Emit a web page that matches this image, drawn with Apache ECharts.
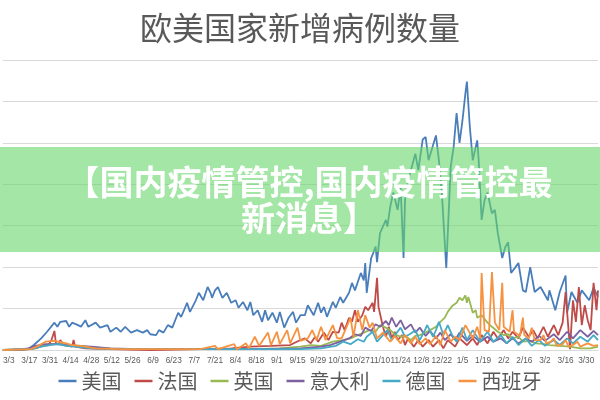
<!DOCTYPE html>
<html>
<head>
<meta charset="utf-8">
<title>欧美国家新增病例数量</title>
<script src="https://cdn.jsdelivr.net/npm/echarts@6.0.0/dist/echarts.min.js"></script>
<style>
html, body { margin: 0; padding: 0; background: #fff; }
#tubiao { width: 600px; height: 400px; }
</style>
</head>
<body>
<div id="tubiao"></div>
<script>
// 横轴: 距2020/3/3的天数, 纵轴: 新增病例(千例)
var tickDays = [0, 14, 28, 42, 56, 70, 84, 98, 112, 126, 140, 154, 168, 182, 196, 210, 224, 238, 252, 266, 280, 294, 308, 322, 336, 350, 364, 378, 392];
var tickLabels = ['3/3', '3/17', '3/31', '4/14', '4/28', '5/12', '5/26', '6/9', '6/23', '7/7', '7/21', '8/4', '8/18', '9/1', '9/15', '9/29', '10/13', '10/27', '11/10', '11/24', '12/8', '12/22', '1/5', '1/19', '2/2', '2/16', '3/2', '3/16', '3/30'];
var names = ['美国', '法国', '英国', '意大利', '德国', '西班牙'];

//美国
var usDays = [-4,1,8,14,17,22,26,31,33,35,
    39,41,43,47,49,52,54,59,62,67,
    69,73,76,79,83,87,91,94,96,100,
    102,105,108,111,115,117,119,121,123,127,
    129,132,135,137,138,140,142,145,148,151,
    154,156,159,162,164,166,169,172,174,176,
    179,182,184,187,190,193,195,198,201,203,
    207,210,212,214,216,220,222,225,227,231,
    233,235,239,241,242,243,246,247,249,250,
    252,256,257,259,261,264,266,268,269,271,
    273,276,278,281,283,285,288,290,292,294,
    297,300,302,304,306,308,310,311,313,315,
    316,318,319,321,323,325,328,330,332,335,
    337,339,341,344,346,349,351,354,357,361,
    366,367,371,374,378,379,382,386,389,394,
    397,400];
var usVals = [0,0,1,2,6,14,22,33,28,34,
    35,28,33,30,28,36,28,33,27,30,
    22,27,22,28,21,24,21,24,19,18,
    24,21,30,27,45,40,48,57,46,60,
    69,60,76,69,63,72,76,63,69,57,
    60,51,58,48,58,42,48,34,48,36,
    45,33,46,27,39,46,33,42,42,54,
    42,57,45,52,40,58,51,64,57,69,
    81,72,93,84,105,69,111,115,125,106,
    141,157,149,173,190,169,197,111,181,205,
    217,237,217,254,257,229,247,259,229,189,
    99,221,245,286,250,277,310,324,269,229,
    237,253,229,157,181,190,165,169,141,111,
    124,130,93,100,105,72,70,100,70,76,
    60,72,48,70,90,45,70,57,72,60,
    75,64];

//法国
var frDays = [-4,8,18,23,27,29,31,32,34,35,
    37,40,43,44,45,52,69,96,130,151,
    164,178,191,198,201,205,208,210,214,217,
    220,224,226,228,231,233,235,237,240,242,
    244,247,248,250,251,254,256,258,260,262,
    264,267,269,271,275,278,281,285,288,292,
    295,298,303,306,311,315,318,321,325,329,
    332,336,339,342,346,349,353,356,359,363,
    366,370,373,376,378,380,381,383,385,387,
    389,391,393,395,397,399,400];
var frVals = [0,0,2,5,6,12,23,8,7,12,
    6,5,4,12,4,2,1,0,1,2,
    4,5,6,12,14,8,16,10,21,12,
    22,21,33,24,39,34,48,34,42,52,
    48,57,46,87,52,28,16,28,14,22,
    12,18,6,14,4,12,4,12,4,12,
    2,12,4,14,6,14,6,18,8,22,
    14,24,14,22,14,27,16,24,14,28,
    16,30,18,33,70,24,1,60,34,76,
    30,54,36,24,81,48,72];

//英国
var ukDays = [-4,15,22,28,35,42,49,62,83,164,
    184,198,205,212,220,227,232,237,241,245,
    249,252,256,259,262,266,269,273,276,279,
    283,286,290,293,296,298,301,304,306,308,
    310,311,312,315,317,318,321,325,328,332,
    336,339,342,346,349,354,358,364,367,374,
    381,388,395,400];
var ukVals = [0,1,5,7,7,6,5,2,1,1,
    2,4,6,5,10,12,14,18,21,24,
    22,30,27,24,19,16,17,12,17,18,
    21,24,28,34,39,46,53,57,63,60,
    66,57,64,45,48,39,42,33,28,22,
    18,19,14,16,10,11,8,7,6,5,
    4,2,2,4];

//意大利
var itDays = [-4,12,18,25,32,39,45,56,69,89,
    164,198,212,218,225,231,235,239,242,246,
    249,252,256,258,260,263,266,269,273,276,
    279,283,286,290,293,296,300,303,306,311,
    315,320,325,329,334,338,342,346,351,355,
    360,364,370,374,379,383,388,393,397,400];
var itVals = [0,1,5,7,7,6,5,4,2,1,
    1,2,4,6,10,14,19,17,27,23,
    31,28,35,30,39,28,36,25,31,21,
    27,17,23,14,21,12,19,12,21,11,
    17,10,16,10,14,8,14,8,14,10,
    17,11,19,12,22,14,24,16,23,18];

//德国
var deDays = [-4,15,22,28,34,39,45,56,76,164,
    198,212,222,227,232,237,241,243,247,250,
    254,257,260,263,266,269,273,276,279,282,
    284,288,290,292,295,298,301,304,308,311,
    315,320,325,329,334,338,342,346,351,355,
    360,364,370,374,379,383,388,393,397,400];
var deVals = [0,1,4,6,7,5,4,2,1,1,
    1,2,5,10,7,13,10,16,22,10,
    18,24,12,20,27,16,20,24,12,22,
    30,16,24,34,18,30,18,10,27,12,
    24,10,22,10,18,8,16,6,14,5,
    12,5,12,6,14,8,16,10,18,12];

//西班牙
var esDays = [-4,15,20,25,30,34,39,43,49,59,
    76,130,140,142,153,155,161,163,167,170,
    176,178,182,184,189,191,196,198,203,206,
    209,212,215,220,223,226,232,234,237,240,
    242,245,247,250,254,259,262,266,269,273,
    276,279,283,286,290,293,296,300,303,306,
    310,315,318,320,321,323,326,328,330,333,
    335,336,340,342,343,347,349,350,353,355,
    357,361,363,365,368,370,372,376,378,380,
    383,386,388,393,397,400];
var esVals = [0,1,5,10,11,10,8,6,5,2,
    1,1,5,1,7,1,8,2,16,5,
    21,6,22,7,24,8,27,11,14,24,
    12,28,12,30,14,14,39,16,48,24,
    42,27,33,14,21,10,17,8,18,8,
    16,7,14,7,17,6,24,10,16,12,
    30,14,28,14,93,24,22,94,33,24,
    81,28,22,48,22,17,39,18,14,27,
    12,12,18,8,10,14,5,7,12,4,
    6,10,4,8,5,6];

var colors = ['#4A7EBB', '#BE4B48', '#98B954', '#7D60A0', '#46AAC5', '#F69240'];

function toPairs(days, vals) {
    var arr = [];
    for (var i = 0; i < days.length; i++) {
        arr.push([days[i], vals[i]]);
    }
    return arr;
}

function makeLine(name, days, vals) {
    return {
        name: name,
        type: 'line',
        data: toPairs(days, vals),
        showSymbol: false,
        symbol: 'none',
        lineStyle: { width: 1.8 },
        emphasis: { disabled: true }
    };
}

var myChart = echarts.init(document.getElementById('tubiao'));

var option = {
    animation: false,
    color: colors,
    title: {
        text: '欧美国家新增病例数量',
        left: 'center',
        top: 7,
        textStyle: { fontSize: 32, fontWeight: 'normal', color: '#595959', fontFamily: 'Noto Sans CJK SC' }
    },
    legend: {
        data: names,
        top: 366,
        left: 'center',
        icon: 'rect',
        itemWidth: 18,
        itemHeight: 2.5,
        itemGap: 13,
        textStyle: { fontSize: 20, color: '#595959', fontFamily: 'Noto Sans CJK SC' }
    },
    grid: { left: 2, right: 2, top: 60, bottom: 50 },
    xAxis: {
        type: 'value',
        min: -4,
        max: 400,
        axisLine: { show: true, lineStyle: { color: '#D9D9D9' } },
        axisTick: { show: false },
        splitLine: { show: false },
        axisLabel: {
            customValues: tickDays,
            formatter: function (v) {
                var k = tickDays.indexOf(v);
                return k < 0 ? '' : tickLabels[k];
            },
            color: '#595959',
            fontSize: 8.3,
            margin: 7,
            fontFamily: 'Liberation Sans'
        }
    },
    yAxis: {
        type: 'value',
        min: 0,
        max: 350,
        interval: 50,
        axisLabel: { show: false },
        axisLine: { show: false },
        axisTick: { show: false },
        splitLine: { lineStyle: { color: '#D9D9D9' } }
    },
    series: [
        makeLine(names[0], usDays, usVals),
        makeLine(names[1], frDays, frVals),
        makeLine(names[2], ukDays, ukVals),
        makeLine(names[3], itDays, itVals),
        makeLine(names[4], deDays, deVals),
        makeLine(names[5], esDays, esVals)
    ],
    // 绿色横幅
    graphic: [
        {
            type: 'rect',
            z: 100,
            shape: { x: 0, y: 147, width: 600, height: 105 },
            style: { fill: 'rgba(102,213,105,0.6)' }
        },
        {
            type: 'text',
            z: 101,
            x: 309,
            y: 200,
            style: {
                text: '【国内疫情管控,国内疫情管控最\n新消息】',
                font: 'bold 34px "Noto Sans CJK SC"',
                fill: '#fff',
                align: 'center',
                verticalAlign: 'middle',
                textAlign: 'center',
                textVerticalAlign: 'middle',
                lineHeight: 36
            }
        }
    ]
};
myChart.setOption(option);
</script>
</body>
</html>
